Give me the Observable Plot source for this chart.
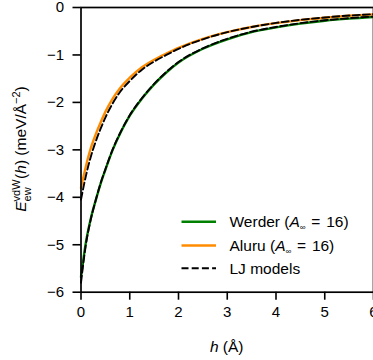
<!DOCTYPE html>
<html>
<head>
<meta charset="utf-8">
<script src="https://cdn.jsdelivr.net/npm/d3@7"></script>
<script src="https://cdn.jsdelivr.net/npm/@observablehq/plot@0.6"></script>
<style>
html, body { margin: 0; padding: 0; background: white; }
#chart { position: relative; width: 373px; height: 360px; overflow: hidden; }
</style>
</head>
<body>
<div id="chart"></div>
<script>
// ---- data ----
const hGrid    = [0, 0.1, 0.2, 0.3, 0.4, 0.5, 0.65, 0.8, 1.0, 1.25, 1.5, 1.75, 2.0, 2.5, 3.0, 3.5, 4.0, 4.5, 5.0, 5.5, 6.0];
const werder   = [-5.68, -4.95, -4.45, -4.07, -3.72, -3.42, -3.0, -2.66, -2.28, -1.92, -1.62, -1.37, -1.16, -0.87, -0.67, -0.52, -0.42, -0.34, -0.28, -0.235, -0.2];
const aluru    = [-3.8, -3.35, -2.97, -2.68, -2.43, -2.2, -1.92, -1.7, -1.48, -1.26, -1.1, -0.97, -0.85, -0.66, -0.52, -0.41, -0.33, -0.265, -0.215, -0.175, -0.145];
const ljWerder = [-5.8, -5.0, -4.47, -4.07, -3.71, -3.41, -2.99, -2.65, -2.27, -1.91, -1.61, -1.36, -1.15, -0.86, -0.66, -0.51, -0.41, -0.33, -0.27, -0.225, -0.19];
const ljAluru  = [-4.05, -3.55, -3.15, -2.83, -2.56, -2.32, -2.02, -1.78, -1.55, -1.31, -1.14, -1.0, -0.87, -0.67, -0.52, -0.41, -0.325, -0.26, -0.21, -0.17, -0.14];
const xTicks = [0, 1, 2, 3, 4, 5, 6];
const yTicks = [0, -1, -2, -3, -4, -5, -6];
const seriesNames = ["Werder", "Aluru", "LJ Werder", "LJ Aluru"];
const seriesColors = ["#008000", "#ff8c00", "#000000", "#000000"];

const rows = (vals, name) => hGrid.map((h, i) => ({h, E: vals[i], s: name}));
const solid = [...rows(werder, "Werder"), ...rows(aluru, "Aluru")];
const dashed = [...rows(ljWerder, "LJ Werder"), ...rows(ljAluru, "LJ Aluru")];

const fmt = d => (d < 0 ? "\u2212" + Math.abs(d) : String(d));
const FONT = "'Liberation Sans', Arial, Helvetica, sans-serif";
const LBL = 15.5;

const plot = Plot.plot({
  width: 373,
  height: 360,
  marginLeft: 80.5,
  marginRight: 0,
  marginTop: 7,
  marginBottom: 68.3,
  style: {fontFamily: FONT, fontSize: "15px", color: "black", background: "white"},
  x: {domain: [0, 6]},
  y: {domain: [-6, 0]},
  color: {domain: seriesNames, range: seriesColors},
  marks: [
    Plot.line(solid, {x: "h", y: "E", z: "s", stroke: "s", strokeWidth: 2.4, curve: "monotone-x"}),
    Plot.line(dashed, {x: "h", y: "E", z: "s", stroke: "s", strokeWidth: 1.9, strokeDasharray: "7,3.2", curve: "monotone-x"}),
    Plot.frame({stroke: "black", strokeWidth: 1.7}),
    Plot.axisX({ticks: xTicks, tickFormat: fmt, tickSize: 8, tickPadding: 6, strokeWidth: 1.6, label: null, fontSize: 15}),
    Plot.axisY({ticks: yTicks, tickFormat: fmt, tickSize: 8, tickPadding: 9, strokeWidth: 1.6, label: null, fontSize: 15})
  ]
});
document.getElementById("chart").appendChild(plot);

const svg = d3.select(plot);

// x label: h (Å)
const xl = svg.append("text")
  .attr("x", 226.7).attr("y", 352)
  .attr("text-anchor", "middle")
  .style("font-family", FONT).style("font-size", LBL + "px").attr("fill", "black");
xl.append("tspan").style("font-style", "italic").text("h");
xl.append("tspan").text(" (\u00C5)");

// y label: E_ew^vdW(h) (meV/Å^-2)
const g = svg.append("g").attr("transform", "translate(26,149) rotate(-90)");
const yl = g.append("text").attr("text-anchor", "start")
  .style("font-family", FONT).style("font-size", LBL + "px").attr("fill", "black");
let cx = 0;
function piece(txt, opts = {}) {
  const t = yl.append("tspan").attr("x", cx).attr("y", opts.dy || 0).attr("text-anchor", "start").text(txt);
  if (opts.italic) t.style("font-style", "italic");
  if (opts.size) t.style("font-size", opts.size + "px");
  const w = t.node().getComputedTextLength();
  if (!opts.noAdvance) cx += w;
  return w;
}
piece("E", {italic: true});
const startSub = cx;
const wSup = piece("vdW", {size: 11, dy: -6, noAdvance: true});
const wSub = piece("ew", {size: 11, dy: 4.5, noAdvance: true});
cx = startSub + Math.max(wSup, wSub) + 0.5;
piece("(");
piece("h", {italic: true});
piece(") (meV/\u00C5");
piece("\u22122", {size: 11, dy: -6});
piece(")");
// centre the label
yl.attr("transform", `translate(${-cx / 2},0)`);

// legend (inside the plot, lower right)
const legendItems = [
  {label: "Werder", color: seriesColors[0], dash: null},
  {label: "Aluru", color: seriesColors[1], dash: null},
  {label: "LJ models", color: "#000000", dash: "7,3.2"}
];
const legY = [221.7, 245.5, 268.3];
legendItems.forEach((it, i) => {
  const y = legY[i];
  svg.append("line").attr("x1", 181.5).attr("x2", 216).attr("y1", y).attr("y2", y)
    .attr("stroke", it.color).attr("stroke-width", it.dash ? 1.9 : 2.4)
    .attr("stroke-dasharray", it.dash);
  const t = svg.append("text").attr("x", 229.5).attr("y", y + 5.5).attr("text-anchor", "start")
    .style("font-family", FONT).style("font-size", LBL + "px").attr("fill", "black");
  if (it.label === "LJ models") {
    t.text("LJ models");
  } else {
    t.append("tspan").text(it.label + " (");
    t.append("tspan").style("font-style", "italic").text("A");
    t.append("tspan").style("font-size", "8px").attr("dy", 3).text("\u221E");
    t.append("tspan").attr("dy", -3).attr("dx", 1.5).text(" = ");
    t.append("tspan").attr("dx", 1.5).text("16)");
  }
});
</script>
</body>
</html>
